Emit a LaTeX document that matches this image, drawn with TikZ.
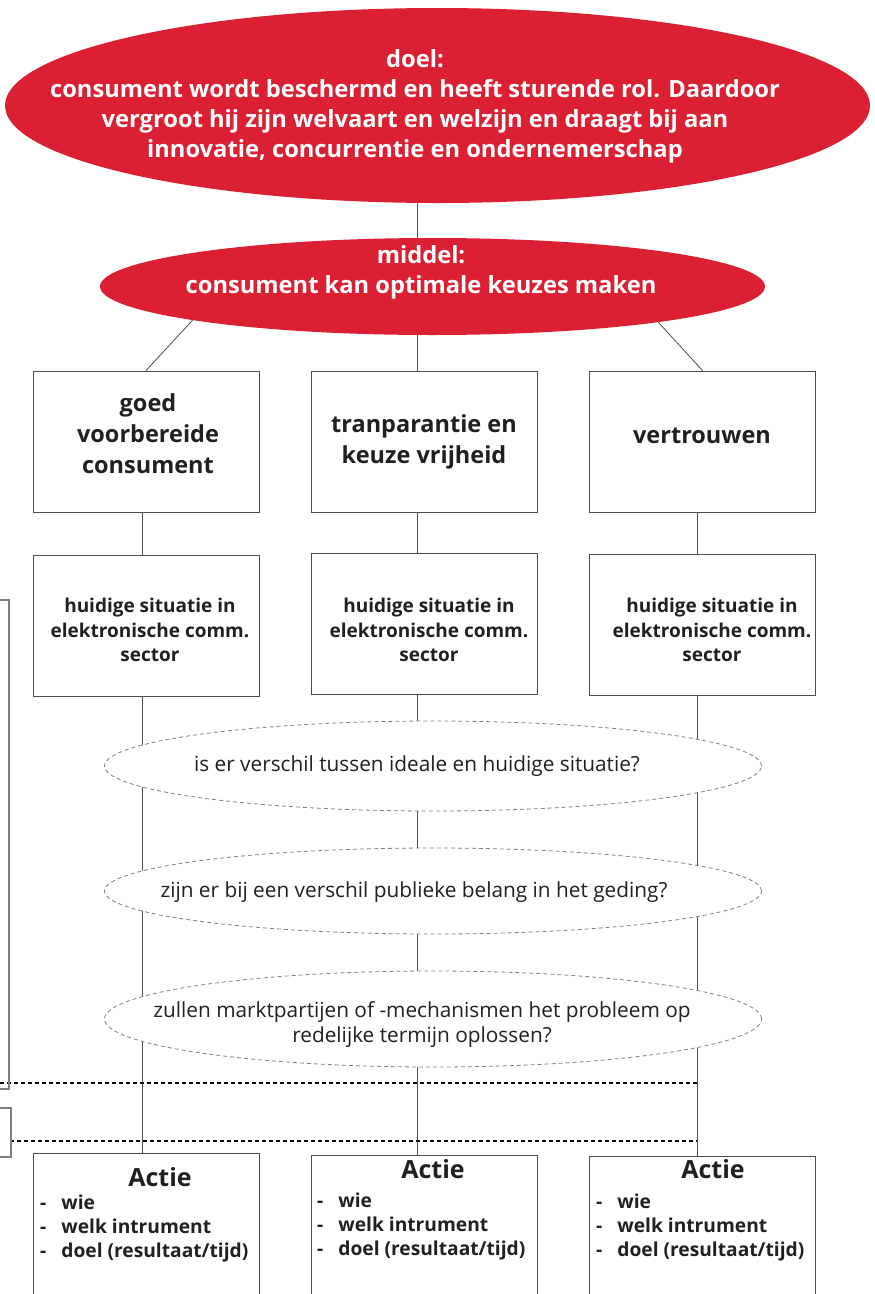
\documentclass[tikz,border=0pt]{standalone}
\usepackage{fontspec}
\setmainfont{Open Sans}
\usetikzlibrary{shapes.geometric}
\definecolor{kred}{HTML}{DA2032}
\definecolor{ink}{HTML}{231F20}
\definecolor{rule}{HTML}{4D4D4D}
\definecolor{soft}{HTML}{808080}
\begin{document}
\begin{tikzpicture}[x=1pt,y=-1pt,
  every node/.style={text=ink},
  redoval/.style={ellipse, fill=kred, draw=none, inner sep=0pt},
  redtext/.style={text=white, font=\bfseries\fontsize{23.7}{30}\selectfont, align=center, inner sep=0pt},
  stepbox/.style={rectangle, draw=rule, line width=0.9pt, fill=white, minimum width=226pt, minimum height=141pt, inner sep=0pt},
  actbox/.style={rectangle, draw=rule, line width=0.9pt, minimum width=226pt, minimum height=200pt, anchor=north, inner sep=0pt},
  headtext/.style={font=\bfseries\fontsize{23.5}{31}\selectfont, align=center, inner sep=0pt},
  sittext/.style={font=\bfseries\fontsize{19}{24.5}\selectfont, align=center, inner sep=0pt},
  question/.style={ellipse, draw=soft, dashed, dash pattern=on 4pt off 3pt, line width=0.8pt, fill=white, inner sep=0pt},
  qtext/.style={font=\fontsize{20.8}{25}\selectfont, align=center, inner sep=0pt},
  acthead/.style={font=\bfseries\fontsize{25}{30}\selectfont, inner sep=0pt},
  actlist/.style={font=\bfseries\fontsize{19.2}{24}\selectfont, anchor=north west, inner sep=0pt},
  link/.style={draw=rule, line width=0.8pt},
  divider/.style={draw=black, line width=2pt, dash pattern=on 4pt off 3pt},
  bracket/.style={draw=soft, line width=2.5pt}
]
\useasboundingbox (0,0) rectangle (875,1294);
\clip (0,0) rectangle (875,1294);

% column positions of the vertical connectors
\coordinate (colA) at (142,0);
\coordinate (colB) at (417,0);
\coordinate (colC) at (697,0);

% goal and means
\node[redoval, minimum width=865pt, minimum height=195pt] (goal) at (437.5,105.5) {};
\node[redtext] (goalt) at (415,106) {doel:\\consument wordt beschermd en heeft sturende rol. Daardoor\\vergroot hij zijn welvaart en welzijn en draagt bij aan\\innovatie, concurrentie en ondernemerschap};
\node[redoval, minimum width=665pt, minimum height=97pt] (means) at (432.5,286.5) {};
\node[redtext] (meanst) at (421,272) {middel:\\consument kan optimale keuzes maken};

% three pillars
\node[stepbox] (p1) at (146,441.5) {};
\node[stepbox] (p2) at (424.5,441.5) {};
\node[stepbox] (p3) at (702.5,441.5) {};
\node[headtext] (p1t) at (148,434) {goed\\voorbereide\\consument};
\node[headtext] (p2t) at (424,442) {tranparantie en\\keuze vrijheid};
\node[headtext] (p3t) at (702,436) {vertrouwen};

% current situation per pillar
\node[stepbox] (s1) at (146,625.5) {};
\node[stepbox] (s2) at (424.5,623.5) {};
\node[stepbox] (s3) at (702.5,625) {};
\node[sittext] (s1t) at (150,630) {huidige situatie in\\elektronische comm.\\sector};
\node[sittext] (s2t) at (429,630) {huidige situatie in\\elektronische comm.\\sector};
\node[sittext] (s3t) at (712,630) {huidige situatie in\\elektronische comm.\\sector};

% action boxes, open at the bottom edge
\node[actbox] (a1) at (146,1153) {};
\node[actbox] (a2) at (424.5,1155) {};
\node[actbox] (a3) at (702.5,1156) {};

% connectors
\draw[link] (goal.south -| colB) -- (means.north -| colB);
\draw[link] (means.188) -- (p1.north);
\draw[link] (means.south -| colB) -- (p2.north -| colB);
\draw[link] (means.351) -- (p3.north);
\draw[link] (p1.south -| colA) -- (s1.north -| colA);
\draw[link] (p2.south -| colB) -- (s2.north -| colB);
\draw[link] (p3.south -| colC) -- (s3.north -| colC);
\draw[link] (s1.south -| colA) -- (a1.north -| colA);
\draw[link] (s2.south -| colB) -- (a2.north -| colB);
\draw[link] (s3.south -| colC) -- (a3.north -| colC);

% questions, drawn over the connectors
\node[question, minimum width=657pt, minimum height=90pt] (q1) at (433,766) {};
\node[question, minimum width=657pt, minimum height=86pt] (q2) at (433,891) {};
\node[question, minimum width=657pt, minimum height=96pt] (q3) at (433,1019) {};
\node[qtext] (q1t) at (417,766) {is er verschil tussen ideale en huidige situatie?};
\node[qtext] (q2t) at (414,892) {zijn er bij een verschil publieke belang in het geding?};
\node[qtext] (q3t) at (422,1025) {zullen marktpartijen of -mechanismen het probleem op\\redelijke termijn oplossen?};

% action texts
\node[acthead] (a1h) at (160,1177) {Actie};
\node[acthead] (a2h) at (433,1169) {Actie};
\node[acthead] (a3h) at (713,1169) {Actie};
\node[actlist] (a1l) at (40,1192) {\begin{tabular}{@{}l@{\hspace{15pt}}l@{}}-&wie\\-&welk intrument\\-&doel (resultaat/tijd)\end{tabular}};
\node[actlist] (a2l) at (317,1190) {\begin{tabular}{@{}l@{\hspace{15pt}}l@{}}-&wie\\-&welk intrument\\-&doel (resultaat/tijd)\end{tabular}};
\node[actlist] (a3l) at (596,1191) {\begin{tabular}{@{}l@{\hspace{15pt}}l@{}}-&wie\\-&welk intrument\\-&doel (resultaat/tijd)\end{tabular}};

% dividers and side brackets
\coordinate (d1l) at (0,1083);
\coordinate (d2l) at (10,1141);
\draw[divider] (d1l) -- (d1l -| colC);
\draw[divider] (d2l) -- (d2l -| colC);
\coordinate (b1t) at (0,600);
\coordinate (b1b) at (0,1089);
\coordinate (b2t) at (0,1108);
\coordinate (b2b) at (0,1157);
\draw[bracket] (b1t) -- ++(9,0) |- (b1b);
\draw[bracket] (b2t) -- ++(11,0) |- (b2b);
\end{tikzpicture}
\end{document}
